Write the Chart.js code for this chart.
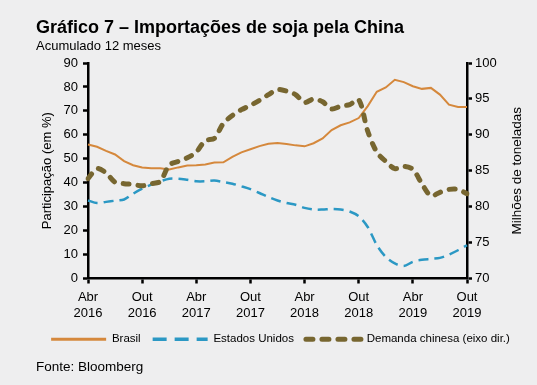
<!DOCTYPE html>
<html lang="pt">
<head>
<meta charset="utf-8">
<title>Importações de soja pela China</title>
<script src="https://cdn.jsdelivr.net/npm/chart.js@4.4.1/dist/chart.umd.min.js"></script>
<style>
  html, body { margin: 0; padding: 0; }
  body {
    width: 537px; height: 385px; overflow: hidden; position: relative;
    background: #eeeeef; color: #000;
    font-family: "Liberation Sans", Arial, sans-serif;
  }
  #wrap { position: absolute; left: 0; top: 0; width: 537px; height: 385px; }
  .txt { position: absolute; left: 36px; white-space: nowrap; }
  #title { top: 17px; font-size: 18px; font-weight: bold; }
  #subtitle { top: 38px; font-size: 13px; }
  #source { top: 359px; font-size: 13.5px; }
</style>
</head>
<body>
<div id="wrap"><canvas id="sojaChart"></canvas></div>
<div id="title" class="txt">Gráfico 7 – Importações de soja pela China</div>
<div id="subtitle" class="txt">Acumulado 12 meses</div>
<div id="source" class="txt">Fonte: Bloomberg</div>

<script>
/* ---- Data (acumulado 12 meses) ---- */
const months = [
  "Abr 2016", "Mai 2016", "Jun 2016", "Jul 2016", "Ago 2016", "Set 2016",
  "Out 2016", "Nov 2016", "Dez 2016", "Jan 2017", "Fev 2017", "Mar 2017",
  "Abr 2017", "Mai 2017", "Jun 2017", "Jul 2017", "Ago 2017", "Set 2017",
  "Out 2017", "Nov 2017", "Dez 2017", "Jan 2018", "Fev 2018", "Mar 2018",
  "Abr 2018", "Mai 2018", "Jun 2018", "Jul 2018", "Ago 2018", "Set 2018",
  "Out 2018", "Nov 2018", "Dez 2018", "Jan 2019", "Fev 2019", "Mar 2019",
  "Abr 2019", "Mai 2019", "Jun 2019", "Jul 2019", "Ago 2019", "Set 2019",
  "Out 2019"
];

// participação (%) - eixo esquerdo
const brasil = [
  56, 55, 53.3, 51.8, 49, 47.3, 46.4, 46, 46, 45.5,
  46.4, 47.2, 47.3, 47.6, 48.4, 48.5, 50.8, 52.7, 54, 55.3,
  56.3, 56.6, 56.2, 55.6, 55.2, 56.5, 58.5, 62, 64, 65.2,
  67, 72, 78, 79.8, 83, 82, 80.3, 79.2, 79.6, 76.8,
  72.6, 71.6, 71.6
];
const estadosUnidos = [
  32.6, 31.5, 32, 32.5, 33, 35.4, 37.5, 39.2, 40.6, 41.7,
  41.7, 41.2, 40.6, 40.6, 40.9, 40.3, 39.6, 38.5, 37.3, 35.7,
  34, 32.6, 31.5, 30.8, 29.5, 28.8, 28.8, 29, 28.8, 28,
  26, 21.5, 14, 9, 6.3, 5.2, 7, 7.8, 8.2, 8.6,
  10, 11.8, 13.9
];

// milhões de toneladas - eixo direito
const demandaChinesa = [
  83.9, 85.3, 84.7, 83.4, 83.2, 83.1, 82.9, 83.2, 83.5, 85.8,
  86.3, 86.8, 87.6, 89.2, 89.5, 91.6, 92.7, 93.5, 94.1, 94.8,
  95.6, 96.3, 96.1, 95.6, 94.5, 95, 94.6, 93.6, 94, 94.2,
  94.9, 90.5, 87.6, 86.3, 85.3, 85.6, 85.2, 83.2, 81.5, 82,
  82.4, 82.4, 81.8
];

const leftRange = [0, 90, 10];
const rightRange = [70, 100, 5];


/* ---- Style ---- */
const FONT = "'Liberation Sans', Arial, sans-serif";
const colors = {
  brasil: "#d5883c",
  eua:    "#2b98c4",
  china:  "#776630",
  axis:   "#000"
};

// legend samples are a bit heavier than the plotted lines
const legendLines = [
  { width: 3,   dash: [],      cap: "butt"  },
  { width: 3.5, dash: [14, 8], cap: "butt"  },
  { width: 5,   dash: [7, 9],  cap: "round" }
];

Chart.defaults.font.family = FONT;
Chart.defaults.color = "#000";


/* right axis title reads bottom-to-top, like the left one */
const rightAxisTitle = {
  id: "rightAxisTitle",
  afterDraw(chart) {
    const { ctx, chartArea } = chart;
    ctx.save();
    ctx.translate(517, (chartArea.top + chartArea.bottom) / 2);
    ctx.rotate(-Math.PI / 2);
    ctx.font = "13.5px " + FONT;
    ctx.fillStyle = colors.axis;
    ctx.textAlign = "center";
    ctx.textBaseline = "middle";
    ctx.fillText("Milhões de toneladas", 0, 0);
    ctx.restore();
  }
};


const axisCommon = {
  grid: { drawOnChartArea: false, tickLength: 5, tickWidth: 2.5, tickColor: colors.axis },
  border: { color: colors.axis, width: 2.5 }
};

new Chart(document.getElementById("sojaChart"), {
  type: "line",
  data: {
    labels: months,
    datasets: [
      {
        label: "Brasil",
        data: brasil,
        yAxisID: "y",
        borderColor: colors.brasil,
        borderWidth: 2,
        pointRadius: 0,
        tension: 0,
        order: 3
      },
      {
        label: "Estados Unidos",
        data: estadosUnidos,
        yAxisID: "y",
        borderColor: colors.eua,
        borderWidth: 2.5,
        borderDash: [10, 6],
        pointRadius: 0,
        tension: 0.3,
        order: 2
      },
      {
        label: "Demanda chinesa (eixo dir.)",
        data: demandaChinesa,
        yAxisID: "y1",
        borderColor: colors.china,
        borderWidth: 5,
        borderDash: [6, 9],
        borderCapStyle: "round",
        pointRadius: 0,
        tension: 0.3,
        order: 1
      }
    ]
  },
  options: {
    responsive: true,
    maintainAspectRatio: false,
    animation: false,
    layout: { padding: { left: 36, right: 12, top: 63, bottom: 30 } },
    plugins: {
      tooltip: { enabled: false },
      legend: {
        position: "bottom",
        labels: {
          usePointStyle: true,
          pointStyle: "line",
          pointStyleWidth: 55,
          boxHeight: 12,
          padding: 12,
          color: "#000",
          font: { size: 11.5 },
          sort: (a, b) => a.datasetIndex - b.datasetIndex,
          generateLabels: chart =>
            Chart.defaults.plugins.legend.labels.generateLabels(chart).map(item => {
              const l = legendLines[item.datasetIndex];
              return { ...item, lineWidth: l.width, lineDash: l.dash, lineCap: l.cap };
            })
        }
      }
    },
    scales: {
      x: {
        ...axisCommon,
        grid: {
          ...axisCommon.grid,
          tickColor: c => (c.index % 6 === 0 ? colors.axis : "rgba(0,0,0,0)")
        },
        ticks: {
          autoSkip: false,
          maxRotation: 0,
          padding: 6,
          font: { size: 13, lineHeight: 1.25 },
          callback: (v, i) => (i % 6 === 0 ? months[i].split(" ") : "")
        },
        afterFit: s => { s.height = 43; }
      },
      y: {
        ...axisCommon,
        position: "left",
        min: leftRange[0],
        max: leftRange[1],
        ticks: { stepSize: leftRange[2], padding: 5, font: { size: 13 } },
        title: {
          display: true,
          text: "Participação (em %)",
          font: { size: 13 },
          padding: { top: 3.5, bottom: 0 }
        },
        afterFit: s => { s.width = 52; }
      },
      y1: {
        ...axisCommon,
        position: "right",
        min: rightRange[0],
        max: rightRange[1],
        ticks: { stepSize: rightRange[2], padding: 3, font: { size: 13 } },
        afterFit: s => { s.width = 58; }
      }
    }
  },
  plugins: [rightAxisTitle]
});
</script>
</body>
</html>
